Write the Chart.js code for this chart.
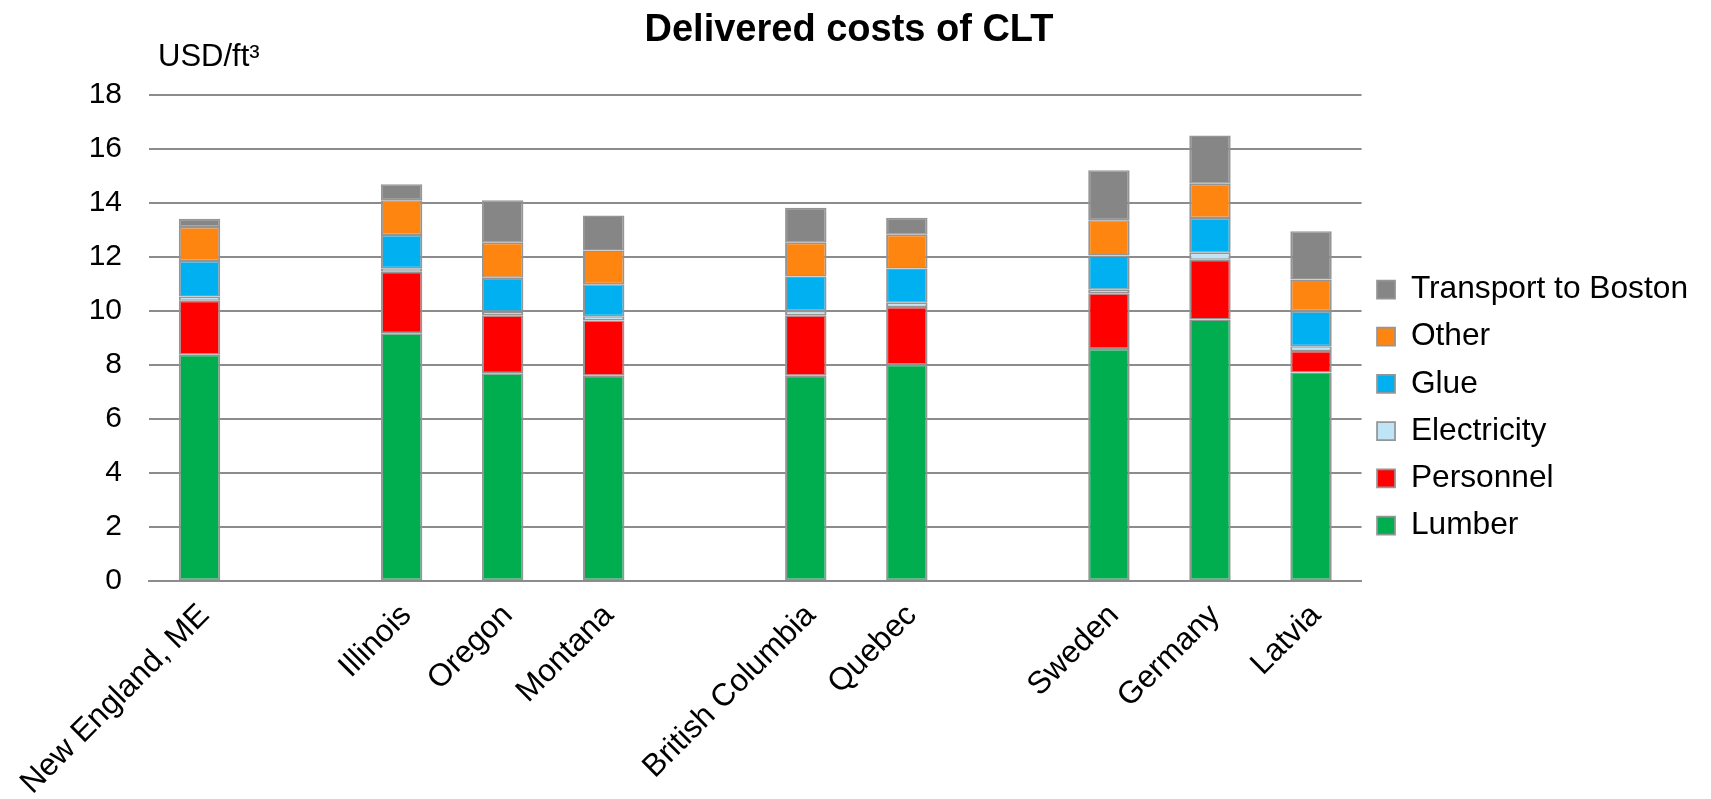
<!DOCTYPE html>
<html>
<head>
<meta charset="utf-8">
<title>Delivered costs of CLT</title>
<script src="https://cdn.jsdelivr.net/npm/chart.js"></script>
<style>
  html, body { margin: 0; padding: 0; background: #fff; }
  #wrap { width: 1711px; height: 799px; position: relative; }
</style>
</head>
<body>
<div id="wrap"><canvas id="cltChart"></canvas></div>
<script>
// categories (blank slots are the gaps between regions)
const regions = ['New England, ME', '', 'Illinois', 'Oregon', 'Montana', '', 'British Columbia', 'Quebec', '', 'Sweden', 'Germany', 'Latvia'];

// cost components, USD/ft3
const lumber      = [8.37, null, 9.17, 7.69, 7.60, null, 7.60, 8.00, null, 8.59, 9.68, 7.72];
const personnel   = [2.00, null, 2.27, 2.14, 2.04, null, 2.23, 2.14, null, 2.06, 2.21, 0.79];
const electricity = [0.16, null, 0.13, 0.13, 0.16, null, 0.16, 0.16, null, 0.13, 0.26, 0.18];
const glue        = [1.31, null, 1.23, 1.26, 1.18, null, 1.28, 1.26, null, 1.27, 1.28, 1.29];
const other       = [1.26, null, 1.29, 1.30, 1.25, null, 1.25, 1.25, null, 1.30, 1.27, 1.18];
const transport   = [0.31, null, 0.59, 1.57, 1.30, null, 1.29, 0.63, null, 1.85, 1.79, 1.78];

const yTicks = [0, 2, 4, 6, 8, 10, 12, 14, 16, 18];

const FONT = "'Liberation Sans', Arial, sans-serif";
const EDGE = '#959595';

function series(label, data, color) {
  return {
    label: label,
    data: data,
    backgroundColor: color,
    borderColor: EDGE,
    borderWidth: { top: 1.5, bottom: 1.5, left: 2, right: 2 },
    borderSkipped: false,
    barPercentage: 0.41,
    categoryPercentage: 1.0
  };
}

// unit label above the value axis
const unitLabel = {
  id: 'unitLabel',
  afterDraw(chart) {
    const ctx = chart.ctx;
    const area = chart.chartArea;
    ctx.save();
    ctx.fillStyle = '#000';
    ctx.font = '31px ' + FONT;
    ctx.textBaseline = 'middle';
    ctx.textAlign = 'left';
    ctx.fillText('USD/ft\u00B3', area.left + 9, area.top - 37);
    ctx.restore();
  }
};

new Chart(document.getElementById('cltChart'), {
  type: 'bar',
  data: {
    labels: regions,
    datasets: [
      series('Lumber', lumber, '#00AD4F'),
      series('Personnel', personnel, '#FF0000'),
      series('Electricity', electricity, '#BFE4F6'),
      series('Glue', glue, '#00B0F0'),
      series('Other', other, '#FF8511'),
      series('Transport to Boston', transport, '#868686')
    ]
  },
  options: {
    responsive: true,
    maintainAspectRatio: false,
    animation: false,
    layout: { padding: { left: 0, right: 13, top: 0, bottom: 0 } },
    plugins: {
      title: {
        display: true,
        text: 'Delivered costs of CLT',
        color: '#000',
        font: { family: FONT, size: 38, weight: 'bold' },
        padding: { top: 8, bottom: 41 }
      },
      legend: {
        position: 'right',
        reverse: true,
        title: { display: true, text: ' ', font: { size: 10 }, padding: { top: 2, bottom: 2 } },
        labels: {
          color: '#000',
          font: { family: FONT, size: 31.7 },
          boxWidth: 18,
          boxHeight: 18,
          padding: 15.5
        }
      },
      tooltip: { enabled: false }
    },
    scales: {
      x: {
        stacked: true,
        offset: true,
        afterFit(scale) { scale.height = 218; },
        grid: { display: false },
        border: { display: true, color: '#8C8C8C', width: 2 },
        ticks: {
          color: '#000',
          font: { family: FONT, size: 31.5 },
          minRotation: 45,
          maxRotation: 45,
          autoSkip: false,
          padding: 8,
          labelOffset: 5
        }
      },
      y: {
        stacked: true,
        min: 0,
        max: 18,
        afterFit(scale) { scale.width = 149; },
        afterBuildTicks(scale) { scale.ticks = yTicks.map(v => ({ value: v })); },
        grid: { color: '#8C8C8C', lineWidth: 2, drawTicks: false },
        border: { display: false },
        ticks: {
          color: '#000',
          font: { family: FONT, size: 30 },
          padding: 27
        }
      }
    }
  },
  plugins: [unitLabel]
});
</script>
</body>
</html>
